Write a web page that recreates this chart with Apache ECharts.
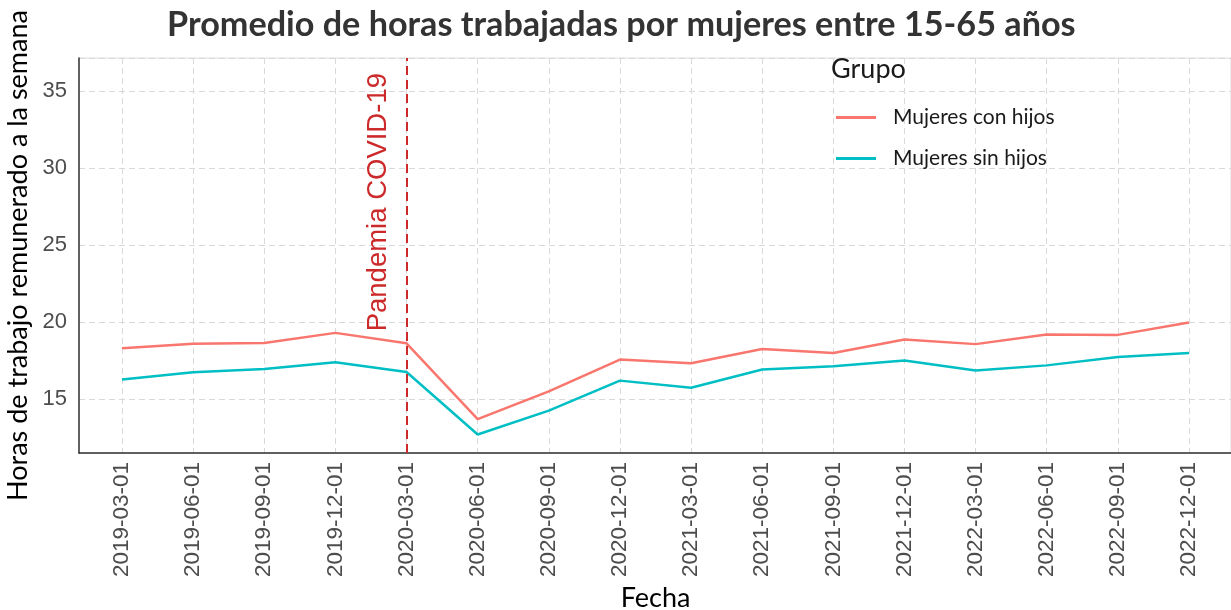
<!DOCTYPE html>
<html><head><meta charset="utf-8">
<script src="https://cdn.jsdelivr.net/npm/echarts@6/dist/echarts.min.js"></script>
<style>html,body{margin:0;padding:0;background:#fff}#c{width:1231px;height:610px}</style>
</head><body><div id="c"></div>
<script>
const fechas = ['2019-03-01','2019-06-01','2019-09-01','2019-12-01','2020-03-01','2020-06-01','2020-09-01','2020-12-01','2021-03-01','2021-06-01','2021-09-01','2021-12-01','2022-03-01','2022-06-01','2022-09-01','2022-12-01'];
const conHijos = [18.3, 18.6, 18.65, 19.3, 18.62, 13.7, 15.5, 17.57, 17.33, 18.25, 18.0, 18.87, 18.57, 19.19, 19.17, 19.98];
const sinHijos = [16.28, 16.74, 16.96, 17.39, 16.76, 12.7, 14.25, 16.2, 15.74, 16.92, 17.13, 17.5, 16.85, 17.19, 17.73, 17.99];
const fechaPandemia = '2020-03-01';
const yMin = 11.5, yMax = 37.15;

const chart = echarts.init(document.getElementById('c'));
const gridLine = { show: true, lineStyle: { color: '#d9d9d9', width: 1, type: [6, 4] } };
chart.setOption({
  animation: false,
  title: [
    { text: 'Promedio de horas trabajadas por mujeres entre 15-65 años', left: 167, top: 8, padding: 0,
      textStyle: { fontFamily: 'Lato', fontWeight: 'bold', fontSize: 34.2, color: '#333333' } },
    { text: 'Grupo', left: 831, top: 56, padding: 0, textStyle: { fontFamily: 'Lato', fontWeight: 'normal', fontSize: 27, color: '#1a1a1a' } }
  ],
  legend: {
    left: 836, top: 107, padding: 0, orient: 'vertical', icon: 'rect', itemWidth: 40, itemHeight: 3, itemGap: 20,
    textStyle: { fontFamily: 'Lato', fontSize: 21, color: '#1a1a1a', padding: [0, 0, 0, 12] },
    data: ['Mujeres con hijos', 'Mujeres sin hijos']
  },
  grid: [
    { left: 79, right: 0, top: 58, bottom: 157, show: true, borderColor: '#dddddd', borderWidth: 1, containLabel: false, outerBoundsMode: 'none' },
    { left: 122, right: 42, top: 58, bottom: 157, containLabel: false, outerBoundsMode: 'none' }
  ],
  xAxis: [
    { type: 'value', gridIndex: 0, min: 0, max: 1, axisLabel: { show: false }, axisTick: { show: false }, splitLine: { show: false },
      axisLine: { show: true, lineStyle: { color: '#333333', width: 1.5 } } },
    { type: 'category', gridIndex: 1, data: fechas, boundaryGap: false,
      axisLine: { show: false }, axisTick: { show: false }, splitLine: gridLine,
      axisLabel: { rotate: 90, margin: 9, fontFamily: 'Liberation Sans', fontSize: 22.5, color: '#4d4d4d', interval: 0 },
      name: 'Fecha', nameLocation: 'middle', nameGap: 130,
      nameTextStyle: { fontFamily: 'Lato', fontSize: 27, color: '#000000' } }
  ],
  yAxis: [
    { type: 'value', gridIndex: 0, min: yMin, max: yMax, splitNumber: 5,
      axisLine: { show: true, lineStyle: { color: '#333333', width: 1.5 } }, axisTick: { show: false },
      splitLine: gridLine,
      axisLabel: { showMinLabel: false, showMaxLabel: false, margin: 12, fontFamily: 'Liberation Sans', fontSize: 22, color: '#4d4d4d' },
      name: 'Horas de trabajo remunerado a la semana', nameLocation: 'middle', nameGap: 44,
      nameTextStyle: { fontFamily: 'Lato', fontSize: 27, color: '#000000' } },
    { type: 'value', gridIndex: 1, min: yMin, max: yMax, show: false }
  ],
  series: [
    { name: 'Mujeres con hijos', type: 'line', xAxisIndex: 1, yAxisIndex: 1, data: conHijos,
      symbol: 'none', color: '#F8766D', lineStyle: { width: 2.5, color: '#F8766D' },
      markLine: { silent: true, symbol: 'none', label: { show: false },
        lineStyle: { color: '#CC2A2A', width: 2, type: [9, 5] },
        data: [{ xAxis: fechaPandemia }] } },
    { name: 'Mujeres sin hijos', type: 'line', xAxisIndex: 1, yAxisIndex: 1, data: sinHijos,
      symbol: 'none', color: '#00BFC4', lineStyle: { width: 2.5, color: '#00BFC4' } }
  ]
});
const px = chart.convertToPixel({ xAxisIndex: 1 }, fechaPandemia);
const py = chart.convertToPixel({ yAxisIndex: 1 }, 19.4);
chart.setOption({
  graphic: [{ type: 'text', x: px - 28, y: py, rotation: Math.PI / 2,
    style: { text: 'Pandemia COVID-19', fontFamily: 'Liberation Sans', fontSize: 27.5, fill: '#CC2A2A',
      textAlign: 'left', textVerticalAlign: 'middle' } }]
});
</script></body></html>
